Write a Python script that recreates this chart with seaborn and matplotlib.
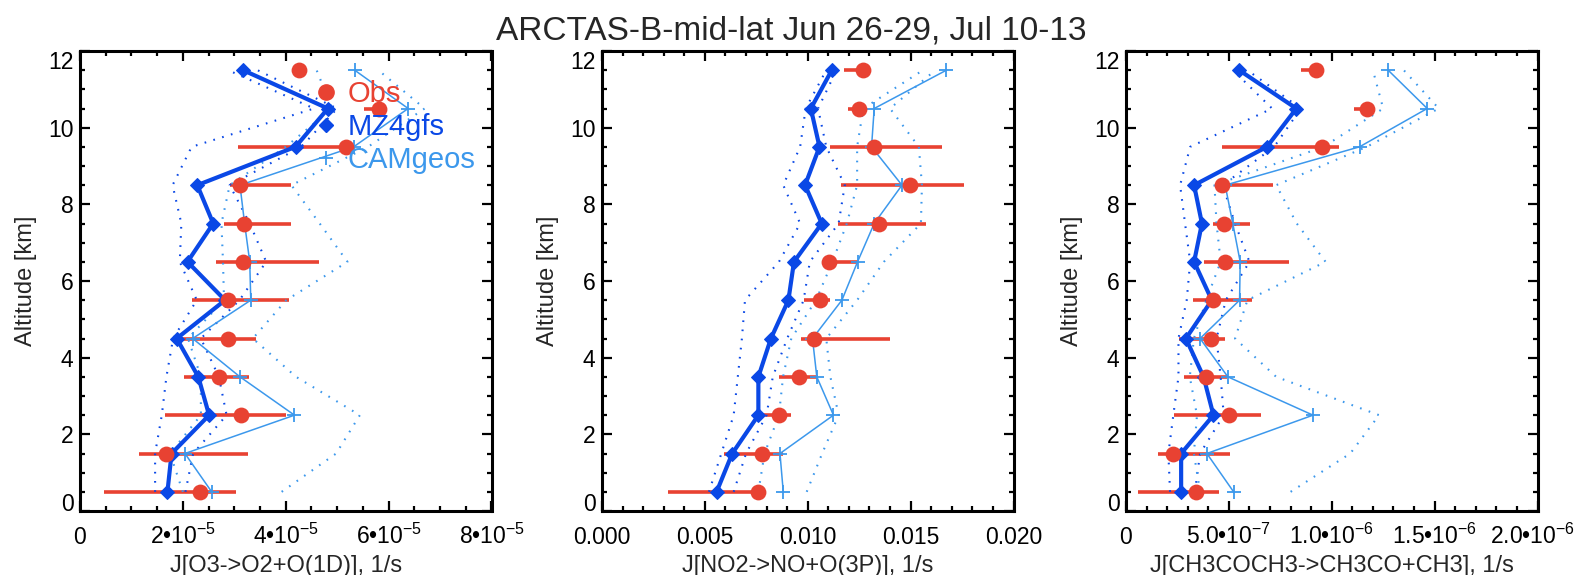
import numpy as np
import matplotlib
matplotlib.use("Agg")
import matplotlib.pyplot as plt
from matplotlib.ticker import MultipleLocator
from matplotlib.lines import Line2D
from matplotlib.transforms import ScaledTranslation
import seaborn as sns

# ---------------- data ----------------
altitude = [0.5, 1.5, 2.5, 3.5, 4.5, 5.5, 6.5, 7.5, 8.5, 9.5, 10.5, 11.5]

# J[O3->O2+O(1D)]  (units of 1e-5 1/s)
o3_obs    = [2.34, 1.67, 3.13, 2.71, 2.88, 2.88, 3.16, 3.18, 3.11, 5.18, 5.81, 4.26]
o3_obs_lo = [0.47, 1.15, 1.65, 2.02, 1.89, 2.17, 2.65, 2.80, 2.91, 3.07, 5.53, 4.26]
o3_obs_hi = [3.04, 3.27, 4.00, 3.28, 3.42, 4.06, 4.64, 4.10, 4.10, 5.25, 5.85, 4.26]
o3_mz4    = [1.70, 1.78, 2.51, 2.30, 1.88, 2.82, 2.09, 2.59, 2.28, 4.19, 4.82, 3.17]
o3_mz4_lo = [1.46, 1.46, 1.59, 1.68, 1.81, 2.27, 1.94, 1.97, 1.80, 2.17, 4.55, 2.88]
o3_mz4_hi = [2.05, 2.20, 2.85, 2.70, 2.35, 3.10, 3.62, 3.30, 2.91, 4.30, 5.00, 3.45]
o3_cam    = [2.56, 2.04, 4.17, 3.11, 2.19, 3.32, 3.30, 3.20, 3.11, 5.32, 6.38, 5.34]
o3_cam_lo = [2.00, 1.75, 2.35, 2.35, 2.10, 2.80, 2.78, 2.75, 2.91, 4.00, 4.90, 4.60]
o3_cam_hi = [3.92, 4.98, 5.44, 4.20, 3.36, 4.01, 5.20, 4.66, 4.11, 5.60, 6.70, 5.80]

# J[NO2->NO+O(3P)]  (units of 1e-3 1/s)
no2_obs    = [7.60, 7.76, 8.60, 9.56, 10.32, 10.60, 11.02, 13.47, 14.95, 13.20, 12.50, 12.68]
no2_obs_lo = [3.21, 5.93, 7.52, 8.60, 9.68, 9.84, 11.02, 11.46, 11.62, 11.06, 11.98, 11.74]
no2_obs_hi = [7.60, 8.81, 9.17, 10.52, 14.01, 11.06, 12.42, 15.75, 17.58, 16.53, 12.60, 12.68]
no2_mz4    = [5.57, 6.33, 7.60, 7.60, 8.21, 9.06, 9.33, 10.68, 9.87, 10.57, 10.15, 11.17]
no2_mz4_lo = [5.20, 5.80, 6.40, 6.60, 6.80, 6.95, 8.60, 9.63, 8.81, 9.63, 9.90, 10.90]
no2_mz4_hi = [6.40, 7.00, 8.00, 8.30, 9.00, 9.80, 10.10, 11.50, 11.80, 10.90, 10.50, 11.40]
no2_cam    = [8.81, 8.65, 11.25, 10.44, 10.23, 11.66, 12.42, 13.23, 14.58, 13.10, 13.23, 16.74]
no2_cam_lo = [7.60, 7.90, 8.60, 8.80, 9.20, 10.40, 11.20, 11.90, 12.40, 12.40, 12.70, 15.60]
no2_cam_hi = [9.95, 10.70, 11.50, 11.10, 10.90, 12.40, 13.70, 15.50, 15.55, 15.40, 14.00, 16.20]

# J[CH3COCH3->CH3CO+CH3]  (units of 1e-7 1/s)
ace_obs    = [3.41, 2.27, 5.03, 3.88, 4.14, 4.25, 4.82, 4.74, 4.66, 9.53, 11.72, 9.25]
ace_obs_lo = [0.57, 1.57, 2.31, 2.84, 2.60, 3.28, 3.81, 4.25, 4.33, 4.69, 11.07, 8.51]
ace_obs_hi = [4.50, 5.06, 6.56, 4.90, 4.82, 6.12, 7.91, 6.04, 7.14, 10.34, 11.72, 9.25]
ace_mz4    = [2.68, 2.68, 4.25, 3.77, 2.91, 4.17, 3.31, 3.69, 3.31, 6.85, 8.28, 5.50]
ace_mz4_lo = [2.14, 2.06, 2.30, 2.55, 2.55, 2.95, 3.12, 2.87, 2.63, 3.12, 7.10, 5.20]
ace_mz4_hi = [3.35, 3.60, 4.75, 4.60, 4.40, 4.85, 6.00, 5.30, 4.70, 7.20, 8.50, 5.90]
ace_cam    = [5.23, 3.93, 9.09, 4.95, 3.60, 5.52, 5.55, 5.19, 4.82, 11.35, 14.64, 12.74]
ace_cam_lo = [3.60, 3.30, 3.45, 3.10, 3.30, 3.90, 4.60, 4.40, 4.30, 9.60, 12.50, 12.00]
ace_cam_hi = [8.00, 10.90, 12.30, 7.30, 5.30, 5.90, 9.70, 8.30, 7.30, 11.70, 15.20, 13.50]

# axis ticks and labels
o3_ticks = [0, 2e-5, 4e-5, 6e-5, 8e-5]
o3_labels = ["0", "2•10$^{-5}$", "4•10$^{-5}$", "6•10$^{-5}$", "8•10$^{-5}$"]
no2_ticks = [0.0, 0.005, 0.010, 0.015, 0.020]
no2_labels = ["0.000", "0.005", "0.010", "0.015", "0.020"]
ace_ticks = [0, 5e-7, 1e-6, 1.5e-6, 2e-6]
ace_labels = ["0", "5.0•10$^{-7}$", "1.0•10$^{-6}$", "1.5•10$^{-6}$", "2.0•10$^{-6}$"]
alt_ticks = [0, 2, 4, 6, 8, 10, 12]

title = "ARCTAS-B-mid-lat Jun 26-29, Jul 10-13"
series_names = ["Obs", "MZ4gfs", "CAMgeos"]

# ---------------- style ----------------
sns.set_theme(style="ticks")
plt.rcParams["font.family"] = ["Liberation Sans", "DejaVu Sans"]
plt.rcParams["mathtext.fontset"] = "custom"
plt.rcParams["mathtext.rm"] = "Liberation Sans"
plt.rcParams["mathtext.it"] = "Liberation Sans"
plt.rcParams["mathtext.bf"] = "Liberation Sans"
plt.rcParams["mathtext.default"] = "regular"

RED = "#E84232"
DARK = "#0A48E6"
LIGHT = "#3C98EC"
FS = 17
TICK_FS = 16.5
dot_style = (0, (0.8, 3.6))

fig = plt.figure(figsize=(15.78, 5.75), dpi=100)
W, H = 1578.0, 575.0
lefts = [80, 602, 1126]
axes = [fig.add_axes([l / W, 64 / H, 411.5 / W, 460 / H]) for l in lefts]

panels = [
    dict(scale=1e-5, obs=o3_obs, lo=o3_obs_lo, hi=o3_obs_hi,
         mz4=o3_mz4, mz4_lo=o3_mz4_lo, mz4_hi=o3_mz4_hi,
         cam=o3_cam, cam_lo=o3_cam_lo, cam_hi=o3_cam_hi,
         xlim=(0, 8e-5), ticks=o3_ticks, labels=o3_labels, minor=0.5e-5,
         xlabel="J[O3->O2+O(1D)], 1/s"),
    dict(scale=1e-3, obs=no2_obs, lo=no2_obs_lo, hi=no2_obs_hi,
         mz4=no2_mz4, mz4_lo=no2_mz4_lo, mz4_hi=no2_mz4_hi,
         cam=no2_cam, cam_lo=no2_cam_lo, cam_hi=no2_cam_hi,
         xlim=(0, 0.020), ticks=no2_ticks, labels=no2_labels, minor=0.001,
         xlabel="J[NO2->NO+O(3P)], 1/s"),
    dict(scale=1e-7, obs=ace_obs, lo=ace_obs_lo, hi=ace_obs_hi,
         mz4=ace_mz4, mz4_lo=ace_mz4_lo, mz4_hi=ace_mz4_hi,
         cam=ace_cam, cam_lo=ace_cam_lo, cam_hi=ace_cam_hi,
         xlim=(0, 2e-6), ticks=ace_ticks, labels=ace_labels, minor=1e-7,
         xlabel="J[CH3COCH3->CH3CO+CH3], 1/s"),
]

alt = np.array(altitude)

for ax, p in zip(axes, panels):
    s = p["scale"]
    obs = np.array(p["obs"]) * s
    lo = np.array(p["lo"]) * s
    hi = np.array(p["hi"]) * s

    # observation ranges
    ax.errorbar(obs, alt, xerr=[obs - lo, hi - obs], fmt="none",
                ecolor=RED, elinewidth=2.6, capsize=0, zorder=2)

    # model spreads (dotted)
    for key, col in (("mz4_lo", DARK), ("mz4_hi", DARK),
                     ("cam_lo", LIGHT), ("cam_hi", LIGHT)):
        sns.lineplot(x=np.array(p[key]) * s, y=alt, sort=False, estimator=None,
                     color=col, lw=1.5, linestyle=dot_style, ax=ax, zorder=2.5)

    # model means
    sns.lineplot(x=np.array(p["cam"]) * s, y=alt, sort=False, estimator=None,
                 color=LIGHT, lw=1.1, marker="+", ms=9.5, mew=1.3, mec=LIGHT,
                 ax=ax, zorder=3)
    sns.lineplot(x=np.array(p["mz4"]) * s, y=alt, sort=False, estimator=None,
                 color=DARK, lw=3.0, marker="D", ms=7.5, mec=DARK, mfc=DARK,
                 ax=ax, zorder=3.5)

    # observed medians
    sns.scatterplot(x=obs, y=alt, s=130, color=RED, edgecolor=RED,
                    linewidth=0, ax=ax, zorder=4)

    ax.set_xlim(*p["xlim"])
    ax.set_ylim(0, 12)
    ax.set_xticks(p["ticks"], labels=p["labels"], va="baseline")
    ax.xaxis.set_minor_locator(MultipleLocator(p["minor"]))
    ax.set_yticks(alt_ticks, labels=[str(t) for t in alt_ticks])
    ax.yaxis.set_minor_locator(MultipleLocator(0.5))

    ax.tick_params(which="both", direction="in", top=True, right=True,
                   labelsize=TICK_FS, colors="black", width=1.6)
    ax.tick_params(axis="x", which="major", length=7.5, pad=23.5)
    ax.tick_params(axis="y", which="major", length=7.5, pad=4.7)
    ax.tick_params(which="minor", length=3.5)
    for sp in ax.spines.values():
        sp.set_linewidth(2.2)
        sp.set_color("black")

    ylabs = ax.get_yticklabels()
    ylabs[0].set_verticalalignment("baseline")
    ylabs[-1].set_verticalalignment("top")

    ax.set_xlabel(p["xlabel"], fontsize=FS)
    ax.xaxis.set_label_coords(0.5, -0.095)
    ax.set_ylabel("Altitude [km]", fontsize=FS)
    ax.yaxis.set_label_coords(-0.105, 0.5)

# keep the last label of the right panel inside the canvas
last = axes[2].get_xticklabels()[-1]
last.set_transform(last.get_transform()
                   + ScaledTranslation(-5 / 100, 0, fig.dpi_scale_trans))

# legend in the first panel
handles = [
    Line2D([], [], ls="none", marker="o", ms=11, color=RED),
    Line2D([], [], ls="none", marker="D", ms=7, color=DARK),
    Line2D([], [], ls="none", marker="+", ms=9.5, mew=1.3, color=LIGHT),
]
axes[0].legend(handles, series_names, loc="upper left",
               bbox_to_anchor=(0.570, 0.936), frameon=False, fontsize=21,
               borderpad=0, borderaxespad=0, handlelength=0.8,
               handletextpad=0.34, labelspacing=0.17,
               labelcolor=[RED, DARK, LIGHT])

fig.text(791.6 / W, 1 - 39 / H, title, ha="center", va="baseline", fontsize=24)

fig.savefig("out.png", dpi=100)
